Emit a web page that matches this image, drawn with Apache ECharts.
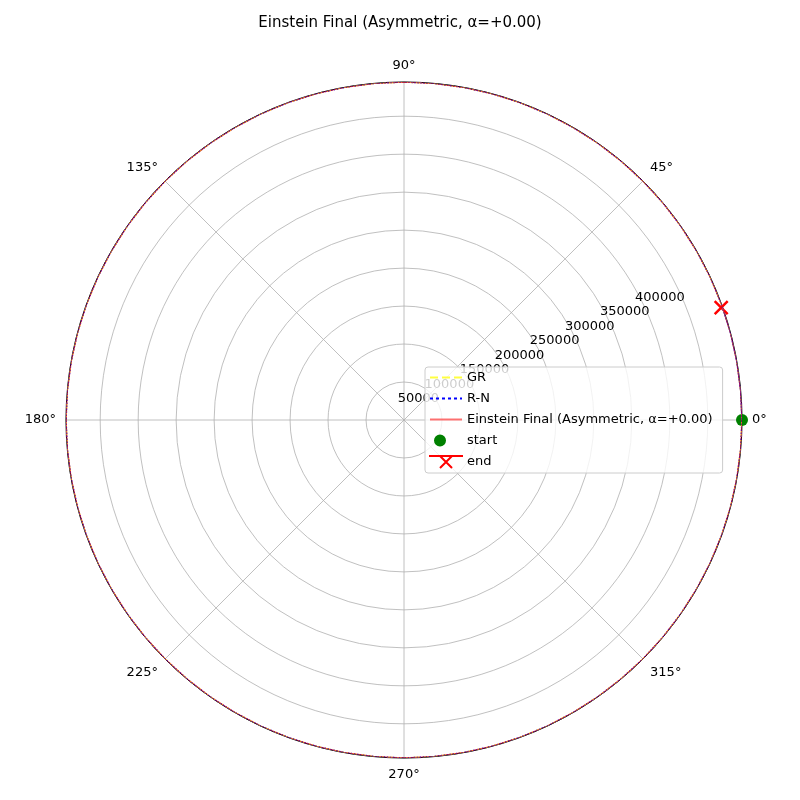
<!DOCTYPE html>
<html>
<head>
<meta charset="utf-8">
<script src="https://cdn.jsdelivr.net/npm/echarts@6/dist/echarts.min.js"></script>
<style>html,body{margin:0;padding:0;background:#fff}#main{width:800px;height:800px}</style>
</head>
<body>
<div id="main"></div>
<script>
// orbit samples: angle in degrees (radius stays ~445000 the whole way)
var orbitAngles = [0, 5, 10, 15, 20, 25, 30, 35, 40, 45, 50, 55, 60, 65, 70, 75, 80, 85, 90,
    95, 100, 105, 110, 115, 120, 125, 130, 135, 140, 145, 150, 155, 160, 165, 170, 175, 180,
    185, 190, 195, 200, 205, 210, 215, 220, 225, 230, 235, 240, 245, 250, 255, 260, 265, 270,
    275, 280, 285, 290, 295, 300, 305, 310, 315, 320, 325, 330, 335, 340, 345, 350, 355, 360,
    365, 370, 375, 379.5];
var orbitRadius = 445000;
var startPoint = [445000, 0];
var endPoint = [443000, 19.5];
var titleText = 'Einstein Final (Asymmetric, α=+0.00)';

var orbit = orbitAngles.map(function (a) { return [orbitRadius, a]; });
var font = 'DejaVu Sans';
var xIcon = 'path://M0,0L10,10M10,0L0,10';

var chart = echarts.init(document.getElementById('main'));
chart.setOption({
    animation: false,
    textStyle: {fontFamily: font},
    title: {text: titleText, left: 'center', top: 11, textStyle: {fontSize: 15, fontWeight: 'normal', color: '#000', fontFamily: font}},
    polar: [
        {center: [404, 420], radius: 338},
        {center: [404, 420], radius: 338}
    ],
    angleAxis: [
        {polarIndex: 0, type: 'value', min: 0, max: 360, interval: 45, startAngle: 0, clockwise: false,
            axisLine: {lineStyle: {color: '#000', width: 1}}, axisTick: {show: false},
            axisLabel: {formatter: function (v) { return v === 360 ? '' : v + '°'; }, color: '#000', fontSize: 13, margin: 10},
            splitLine: {lineStyle: {color: '#b0b0b0', width: 0.8}}},
        {polarIndex: 1, type: 'value', min: 0, max: 360, startAngle: 22.5, clockwise: false, show: false}
    ],
    radiusAxis: [
        {polarIndex: 0, type: 'value', min: 0, max: 445000, interval: 50000,
            axisLine: {show: false}, axisTick: {show: false}, axisLabel: {show: false},
            splitLine: {lineStyle: {color: '#b0b0b0', width: 0.8}}},
        {polarIndex: 1, type: 'value', min: 0, max: 445000, interval: 50000,
            axisLine: {show: false}, axisTick: {show: false}, splitLine: {show: false},
            axisLabel: {color: '#000', fontSize: 13, margin: 0, verticalAlign: 'bottom', showMaxLabel: false,
                formatter: function (v) { return (v === 0 || v % 50000 !== 0) ? '' : v; }}}
    ],
    legend: {
        left: 425, top: 367, orient: 'vertical', itemGap: 8, itemWidth: 32, itemHeight: 12,
        backgroundColor: 'rgba(255,255,255,0.8)', borderColor: '#ccc', borderWidth: 1, borderRadius: 3,
        padding: [4, 10, 4, 4], textStyle: {fontSize: 13, color: '#000'},
        data: [
            {name: 'GR', icon: 'path://M0,5h8v2h-8zM12,5h8v2h-8zM24,5h8v2h-8z'},
            {name: 'R-N', icon: 'path://M0,5h3v2h-3zM6,5h3v2h-3zM12,5h3v2h-3zM18,5h3v2h-3zM24,5h3v2h-3zM30,5h2v2h-2z'},
            {name: titleText, icon: 'path://M0,5h32v2h-32z'},
            {name: 'start', icon: 'path://M10,0a6,6 0 1,0 0.01,0zM0,0h32v0.01h-32z', itemStyle: {opacity: 1}},
            {name: 'end', icon: 'path://M10,0L22,12M22,0L10,12M0,0h32v0.01h-32z'}
        ]
    },
    series: [
        {name: 'GR', type: 'line', coordinateSystem: 'polar', polarIndex: 0, data: orbit, showSymbol: false,
            lineStyle: {color: '#ffff40', type: 'dashed', width: 1.5}, itemStyle: {color: '#ffff40'}},
        {name: 'R-N', type: 'line', coordinateSystem: 'polar', polarIndex: 0, data: orbit, showSymbol: false,
            lineStyle: {color: '#0000ff', type: 'dotted', width: 1.5}, itemStyle: {color: '#0000ff'}},
        {name: titleText, type: 'line', coordinateSystem: 'polar', polarIndex: 0, data: orbit, showSymbol: false,
            lineStyle: {color: 'rgba(255,0,0,0.55)', width: 1.5}, itemStyle: {color: 'rgba(255,0,0,0.55)'}},
        {name: 'start', type: 'scatter', coordinateSystem: 'polar', polarIndex: 0, data: [startPoint],
            symbol: 'circle', symbolSize: 12, itemStyle: {color: 'green', opacity: 1}},
        {name: 'end', type: 'scatter', coordinateSystem: 'polar', polarIndex: 0, data: [endPoint],
            symbol: xIcon, symbolSize: 13, itemStyle: {color: 'red', borderColor: 'red', borderWidth: 2.5, opacity: 1}}
    ]
});
</script>
</body>
</html>
